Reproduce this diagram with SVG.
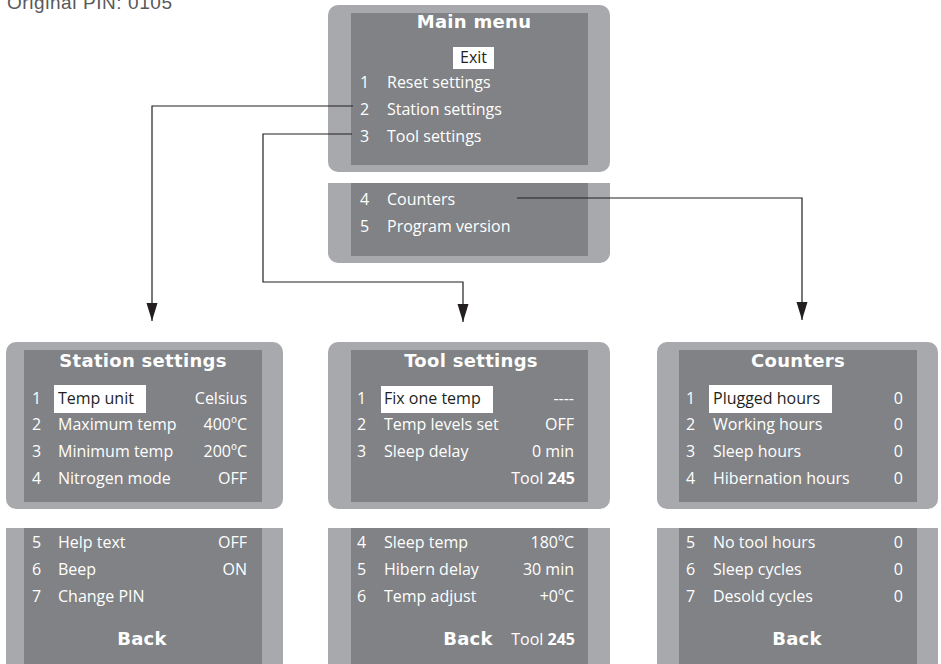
<svg xmlns="http://www.w3.org/2000/svg" width="941" height="664" viewBox="0 0 941 664">
<defs>
<style>
.outer{fill:#a7a9ac}
.inner{fill:#808285}
.hl{fill:#ffffff}
.t{font-family:"Open Sans","Noto Sans",sans-serif;font-size:16px;fill:#ffffff}
.r{text-anchor:end}
.dk{fill:#231f20}
.ttl{font-family:"DejaVu Sans",sans-serif;font-weight:bold;font-size:18px;fill:#ffffff;text-anchor:middle;letter-spacing:0.3px}
.b{font-weight:bold}
.con{fill:none;stroke:#231f20;stroke-width:1.2}
</style>
<marker id="ah" markerUnits="userSpaceOnUse" markerWidth="19" markerHeight="12" viewBox="0 0 19 12" refX="18" refY="6" orient="auto">
<polygon points="0,0.5 0,11.5 18,6" fill="#231f20"/>
</marker>
</defs>
<rect width="941" height="664" fill="#ffffff"/>
<text x="7" y="9" font-family="Liberation Sans, Arial, sans-serif" font-size="19" fill="#58595b" textLength="165">Original PIN: 0105</text>

<g id="main-menu">
<rect class="outer" x="328" y="5" width="282" height="167" rx="10"/>
<rect class="inner" x="351" y="13" width="237" height="152"/>
<text class="ttl" x="474" y="28">Main menu</text>
<rect class="hl" x="453" y="47" width="41" height="22"/>
<text class="t dk" x="473.5" y="63" text-anchor="middle">Exit</text>
<text class="t" x="360" y="88">1</text><text class="t" x="387" y="88">Reset settings</text>
<text class="t" x="360" y="115">2</text><text class="t" x="387" y="115">Station settings</text>
<text class="t" x="360" y="142">3</text><text class="t" x="387" y="142">Tool settings</text>
</g>

<g id="main-menu-2">
<path class="outer" d="M328,183 H610 V253 A10,10 0 0 1 600,263 H338 A10,10 0 0 1 328,253 Z"/>
<rect class="inner" x="351" y="183" width="237" height="73"/>
<text class="t" x="360" y="205">4</text><text class="t" x="387" y="205">Counters</text>
<text class="t" x="360" y="232">5</text><text class="t" x="387" y="232">Program version</text>
</g>

<g id="station-settings">
<rect class="outer" x="6" y="342" width="277" height="167" rx="10"/>
<rect class="inner" x="24" y="350" width="238" height="152"/>
<text class="ttl" x="143" y="367">Station settings</text>
<rect class="hl" x="54" y="385" width="92" height="28"/>
<text class="t" x="32" y="404">1</text><text class="t dk" x="58" y="404">Temp unit</text><text class="t r" x="247" y="404">Celsius</text>
<text class="t" x="32" y="430">2</text><text class="t" x="58" y="430">Maximum temp</text><text class="t r" x="247" y="430">400ºC</text>
<text class="t" x="32" y="457">3</text><text class="t" x="58" y="457">Minimum temp</text><text class="t r" x="247" y="457">200ºC</text>
<text class="t" x="32" y="484">4</text><text class="t" x="58" y="484">Nitrogen mode</text><text class="t r" x="247" y="484">OFF</text>
</g>

<g id="station-settings-2">
<rect class="outer" x="6" y="528" width="277" height="145"/>
<rect class="inner" x="24" y="528" width="238" height="145"/>
<text class="t" x="32" y="548">5</text><text class="t" x="58" y="548">Help text</text><text class="t r" x="247" y="548">OFF</text>
<text class="t" x="32" y="575">6</text><text class="t" x="58" y="575">Beep</text><text class="t r" x="247" y="575">ON</text>
<text class="t" x="32" y="602">7</text><text class="t" x="58" y="602">Change PIN</text>
<text class="ttl" x="142" y="645">Back</text>
</g>

<g id="tool-settings">
<rect class="outer" x="328" y="342" width="282" height="167" rx="10"/>
<rect class="inner" x="351" y="350" width="237" height="152"/>
<text class="ttl" x="471" y="367">Tool settings</text>
<rect class="hl" x="381" y="386" width="112" height="27"/>
<text class="t" x="357" y="404">1</text><text class="t dk" x="384" y="404">Fix one temp</text><text class="t r" x="574" y="404">----</text>
<text class="t" x="357" y="430">2</text><text class="t" x="384" y="430">Temp levels set</text><text class="t r" x="574" y="430">OFF</text>
<text class="t" x="357" y="457">3</text><text class="t" x="384" y="457">Sleep delay</text><text class="t r" x="574" y="457">0 min</text>
<text class="t r" x="575" y="484">Tool <tspan class="b">245</tspan></text>
</g>

<g id="tool-settings-2">
<rect class="outer" x="328" y="528" width="282" height="145"/>
<rect class="inner" x="351" y="528" width="237" height="145"/>
<text class="t" x="357" y="548">4</text><text class="t" x="384" y="548">Sleep temp</text><text class="t r" x="574" y="548">180ºC</text>
<text class="t" x="357" y="575">5</text><text class="t" x="384" y="575">Hibern delay</text><text class="t r" x="574" y="575">30 min</text>
<text class="t" x="357" y="602">6</text><text class="t" x="384" y="602">Temp adjust</text><text class="t r" x="574" y="602">+0ºC</text>
<text class="ttl" x="468" y="645">Back</text>
<text class="t r" x="575" y="645">Tool <tspan class="b">245</tspan></text>
</g>

<g id="counters">
<rect class="outer" x="657" y="342" width="281" height="167" rx="10"/>
<rect class="inner" x="679" y="350" width="238" height="152"/>
<text class="ttl" x="798" y="367">Counters</text>
<rect class="hl" x="709" y="385" width="123" height="28"/>
<text class="t" x="686" y="404">1</text><text class="t dk" x="713" y="404">Plugged hours</text><text class="t r" x="903" y="404">0</text>
<text class="t" x="686" y="430">2</text><text class="t" x="713" y="430">Working hours</text><text class="t r" x="903" y="430">0</text>
<text class="t" x="686" y="457">3</text><text class="t" x="713" y="457">Sleep hours</text><text class="t r" x="903" y="457">0</text>
<text class="t" x="686" y="484">4</text><text class="t" x="713" y="484">Hibernation hours</text><text class="t r" x="903" y="484">0</text>
</g>

<g id="counters-2">
<rect class="outer" x="657" y="528" width="281" height="145"/>
<rect class="inner" x="679" y="528" width="238" height="145"/>
<text class="t" x="686" y="548">5</text><text class="t" x="713" y="548">No tool hours</text><text class="t r" x="903" y="548">0</text>
<text class="t" x="686" y="575">6</text><text class="t" x="713" y="575">Sleep cycles</text><text class="t r" x="903" y="575">0</text>
<text class="t" x="686" y="602">7</text><text class="t" x="713" y="602">Desold cycles</text><text class="t r" x="903" y="602">0</text>
<text class="ttl" x="797" y="645">Back</text>
</g>

<g id="connectors">
<path class="con" d="M353,106 H152 V321" marker-end="url(#ah)"/>
<path class="con" d="M352,134 H263 V282 H463 V322" marker-end="url(#ah)"/>
<path class="con" d="M517,198 H802 V320" marker-end="url(#ah)"/>
</g>
</svg>
